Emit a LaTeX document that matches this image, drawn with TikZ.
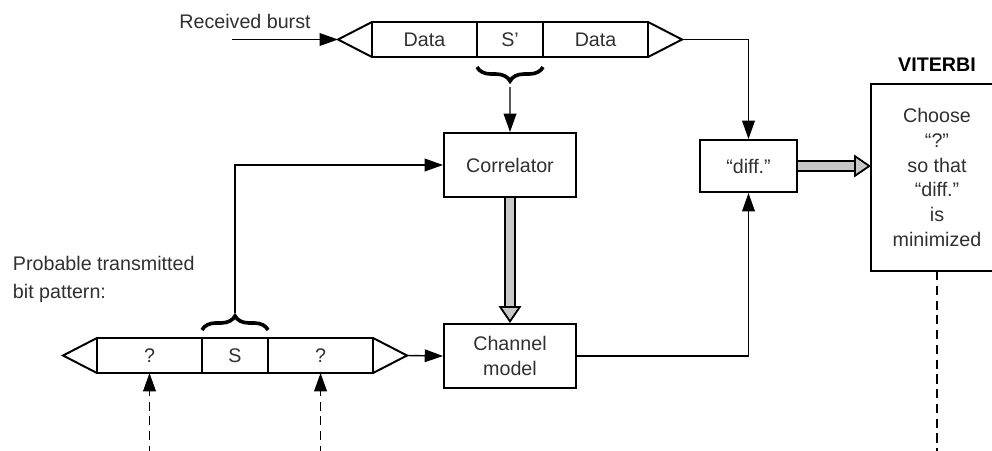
\documentclass[tikz,border=0pt]{standalone}
\usepackage{fontspec}
\setmainfont{Liberation Sans}
\usetikzlibrary{arrows.meta, positioning, calc, decorations.pathreplacing}
\definecolor{txtgray}{HTML}{303030}
\definecolor{fatgray}{HTML}{C8C8C8}

\begin{document}
\begin{tikzpicture}[
  x=0.025cm, y=-0.025cm,
  font=\fontsize{14}{17.6}\selectfont,
  blk/.style={rectangle, draw, line width=1.4pt, text=txtgray, align=center,
              inner sep=2pt},
  cell/.style={rectangle, draw, line width=1.4pt, text=txtgray, outer sep=0pt,
               minimum height=0.875cm, minimum width=2.625cm},
  scell/.style={cell, minimum width=1.65cm},
  endcap/.style={line width=1.4pt},
  arr/.style={-{Triangle[length=13pt, width=9pt]}, line width=1pt},
  dsh/.style={line width=1.1pt, dash pattern=on 6.5pt off 4pt},
  fat/.style={line width=1.3pt, double=fatgray, double distance=5.5pt,
              -{Triangle[length=12pt, width=16pt, fill=fatgray]}},
  brc/.style={decorate, decoration={brace, amplitude=10pt}, line width=2.6pt},
  node distance=0pt,
]
  \useasboundingbox (0,0) rectangle (992,450);
  \coordinate (bot) at (0,455);

  %% Received burst
  \node[cell] (d1) at (424.5,39.5) {Data};
  \node[scell, right=of d1] (s1) {S’};
  \node[cell, right=of s1] (d2) {Data};
  \draw[endcap] (d1.north west) -- ($(d1.west)+(-34,0)$) coordinate (inL) -- (d1.south west);
  \draw[endcap] (d2.north east) -- ($(d2.east)+(34,0)$) coordinate (outR) -- (d2.south east);
  \coordinate (rcv) at (232,39.5);
  \node[text=txtgray] (rcvlbl) at (245,21) {Received burst};
  \draw[arr] (rcv) -- (inL);

  %% Probable transmitted bit pattern
  \node[cell] (q1) at (149.5,355.5) {?};
  \node[scell, right=of q1] (s2) {S};
  \node[cell, right=of s2] (q2) {?};
  \draw[endcap] (q1.north west) -- ($(q1.west)+(-34,0)$) coordinate (qL) -- (q1.south west);
  \draw[endcap] (q2.north east) -- ($(q2.east)+(34,0)$) coordinate (qR) -- (q2.south east);
  \node[text=txtgray, anchor=west, align=left,
        font=\fontsize{14}{20}\selectfont] (problbl) at (8,279)
        {Probable transmitted\\bit pattern:};

  %% Blocks
  \node[blk, minimum width=3.3cm, minimum height=1.6cm] (corr) at (510,165) {Correlator};
  \node[blk, minimum width=3.3cm, minimum height=1.6cm, below=3.125cm of corr] (chan) {Channel\\model};
  \node[blk, minimum width=2.425cm, minimum height=1.3cm] (diff) at (748.5,166) {“diff.”};
  \node[blk, draw=none, minimum width=3.25cm, minimum height=4.625cm,
        label={[label distance=5pt, text=black, font=\fontsize{14}{17}\selectfont\bfseries]above:VITERBI}]
        (vit) at (937,177.5) {Choose\\“?”\\so that\\“diff.”\\is\\minimized};
  % box runs off the right edge
  \draw[endcap] ($(vit.north east)+(30,0)$) -- (vit.north west) -- (vit.south west) -- ($(vit.south east)+(30,0)$);

  %% Braces
  \draw[brc] ($(s1.south east)+(0,10)$) -- ($(s1.south west)+(0,10)$);
  \coordinate (stip) at ($(s1.south)+(0,30)$);
  \draw[brc] ($(s2.north west)+(0,-8)$) -- ($(s2.north east)+(0,-8)$);
  \coordinate (qtip) at ($(s2.north)+(0,-25)$);

  %% Connectors
  \draw[arr] (stip) -- (corr.north);
  \draw[arr] (qtip) |- (corr.west);
  \draw[arr] (qR) -- (chan.west);
  \draw[arr] (outR) -| (diff.north);
  \draw[arr] (chan.east) -| (diff.south);
  \draw[fat] (corr.south) -- (chan.north);
  \draw[fat] (diff.east) -- (diff.east -| vit.west);

  %% Dashed inputs
  \draw[arr, dsh] (q1.south |- bot) -- (q1.south);
  \draw[arr, dsh] (q2.south |- bot) -- (q2.south);
  \draw[dsh] (vit.south) -- (vit.south |- bot);

\end{tikzpicture}
\end{document}
